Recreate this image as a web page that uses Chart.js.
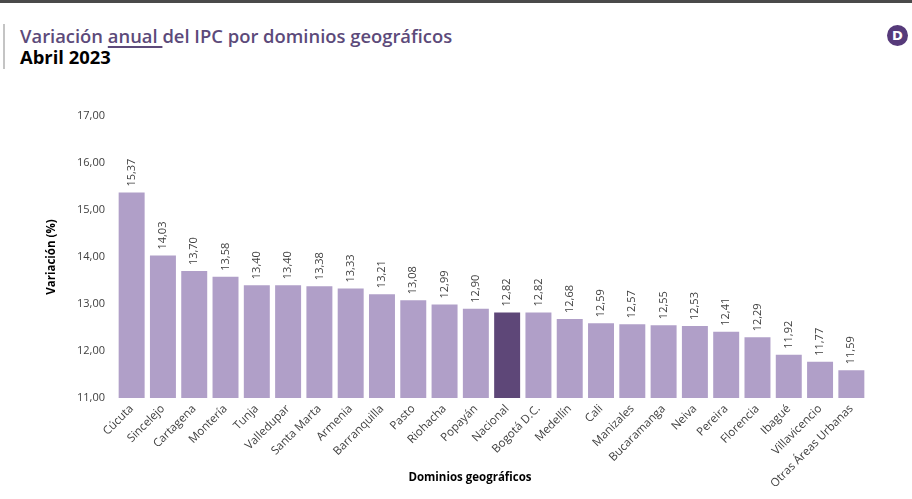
<!DOCTYPE html>
<html>
<head>
<meta charset="utf-8">
<script src="https://cdn.jsdelivr.net/npm/chart.js@4.4.0/dist/chart.umd.min.js"></script>
<style>
  html, body { margin:0; padding:0; background:#fff; }
  body { width:912px; height:499px; position:relative; overflow:hidden; font-family:"Open Sans", sans-serif; }
  #topbar { position:absolute; left:0; top:0; width:912px; height:3px; background:#4a4a4a; }
  #sidebar { position:absolute; left:3px; top:24px; width:2px; height:45px; background:#c4c4c4; }
  #t1 { position:absolute; left:20px; top:23px; font-size:18.4px; font-weight:600; color:#5c4a7a; white-space:nowrap; }
  #t1 u { text-decoration-thickness:1.5px; text-underline-offset:3px; }
  #t2 { position:absolute; left:20px; top:44px; font-size:18.4px; font-weight:700; color:#000; white-space:nowrap; }
  #logo { position:absolute; left:887px; top:25px; width:21px; height:21px; border-radius:50%; background:#563a7a; color:#fff; font-weight:700; font-size:13px; line-height:21px; text-align:center; font-family:"DejaVu Sans", sans-serif; }
  #xtitle { position:absolute; left:370px; width:200px; top:469px; text-align:center; font-size:11.5px; font-weight:700; color:#000; }
  #c { position:absolute; left:0; top:0; }
</style>
</head>
<body>
<div id="topbar"></div>
<div id="sidebar"></div>
<div id="t1">Variación <u>anual </u>del IPC por dominios geográficos</div>
<div id="t2">Abril 2023</div>
<div id="logo">D</div>
<canvas id="c" width="912" height="499"></canvas>
<div id="xtitle"></div>
<script>
const categories = ["Cúcuta","Sincelejo","Cartagena","Montería","Tunja","Valledupar","Santa Marta","Armenia","Barranquilla","Pasto","Riohacha","Popayán","Nacional","Bogotá D.C.","Medellín","Cali","Manizales","Bucaramanga","Neiva","Pereira","Florencia","Ibagué","Villavicencio","Otras Áreas Urbanas"];
const values = [15.37,14.03,13.70,13.58,13.40,13.40,13.38,13.33,13.21,13.08,12.99,12.90,12.82,12.82,12.68,12.59,12.57,12.55,12.53,12.41,12.29,11.92,11.77,11.59];
const highlight = "Nacional";
const yTicks = [11,12,13,14,15,16,17];
const xTitle = "Dominios geográficos";
const yTitle = "Variación (%)";

document.getElementById('xtitle').textContent = xTitle;

const fmt = v => v.toFixed(2).replace('.', ',');
const colors = categories.map(c => c === highlight ? '#5e4778' : '#b09fc8');

const valueLabels = {
  id: 'valueLabels',
  afterDatasetsDraw(chart) {
    const ctx = chart.ctx;
    const meta = chart.getDatasetMeta(0);
    ctx.save();
    ctx.font = '11px "Open Sans", sans-serif';
    ctx.fillStyle = '#404040';
    ctx.textAlign = 'left';
    ctx.textBaseline = 'middle';
    meta.data.forEach((bar, i) => {
      ctx.save();
      ctx.translate(bar.x, bar.y - 6);
      ctx.rotate(-Math.PI / 2);
      ctx.fillText(fmt(values[i]), 0, 0);
      ctx.restore();
    });
    ctx.restore();
  }
};

new Chart(document.getElementById('c'), {
  type: 'bar',
  data: {
    labels: categories,
    datasets: [{ data: values, backgroundColor: colors, borderWidth: 0,
      categoryPercentage: 1, barPercentage: 0.83 }]
  },
  options: {
    responsive: false,
    animation: false,
    devicePixelRatio: 1,
    layout: { padding: { left: 45, right: 45, top: 116, bottom: 0 } },
    plugins: { legend: { display: false }, tooltip: { enabled: false } },
    scales: {
      x: {
        grid: { display: false, drawTicks: false },
        border: { display: false },
        ticks: { color: '#404040', font: { family: '"Open Sans", sans-serif', size: 11.5 }, minRotation: 45, maxRotation: 45, autoSkip: false, padding: 4 },
        afterFit(s) { s.height = 101; }
      },
      y: {
        min: 11, max: 17,
        grid: { display: false, drawTicks: false },
        border: { display: false },
        afterBuildTicks(s) { s.ticks = yTicks.map(v => ({ value: v })); },
        ticks: { color: '#404040', font: { family: '"Open Sans", sans-serif', size: 11 }, padding: 11, callback: v => fmt(v) },
        title: { display: true, text: yTitle, color: '#000', font: { family: '"Open Sans", sans-serif', size: 11.5, weight: 'bold' }, padding: { top: 0, bottom: 0 } },
        afterFit(s) { s.width = 71; }
      }
    }
  },
  plugins: [valueLabels]
});
</script>
</body>
</html>
